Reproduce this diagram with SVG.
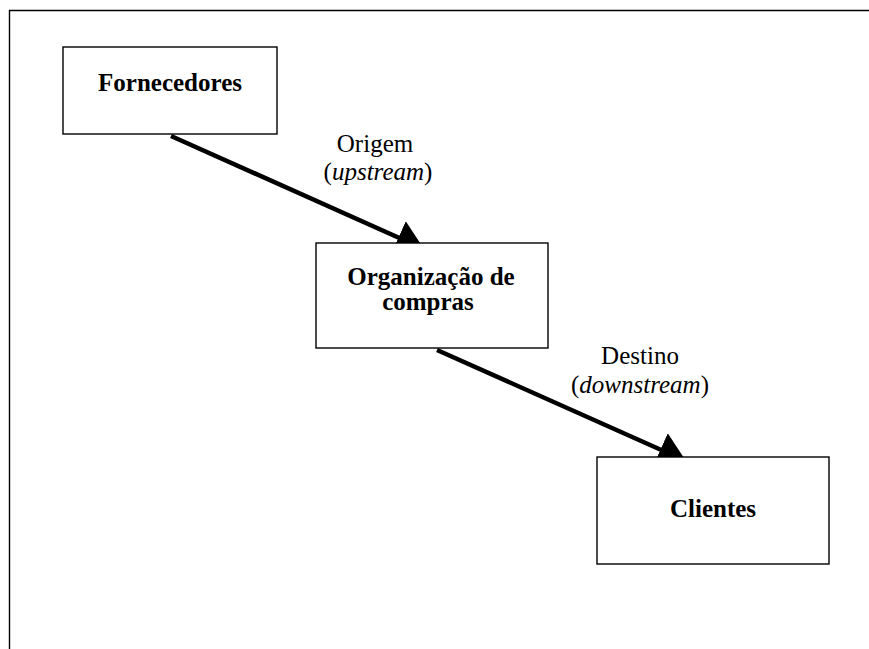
<svg xmlns="http://www.w3.org/2000/svg" width="869" height="649" viewBox="0 0 869 649">
  <style>
    .frame { fill: none; stroke: #000; stroke-width: 1.4; }
    .box { fill: #fff; stroke: #000; stroke-width: 1.4; }
    .edge { fill: none; stroke: #000; stroke-width: 4.5; marker-end: url(#head); }
    .node-text { font-family: "Liberation Serif", "Times New Roman", serif; font-weight: bold; font-size: 25px; text-anchor: middle; fill: #000; }
    .edge-text { font-family: "Liberation Serif", "Times New Roman", serif; font-size: 25px; text-anchor: middle; fill: #000; }
    .it { font-style: italic; }
  </style>
  <defs>
    <marker id="head" markerUnits="userSpaceOnUse" markerWidth="30" markerHeight="38" refX="28" refY="18" orient="auto">
      <path d="M0,0 L28,18 L0,36 Z" fill="#000"/>
    </marker>
  </defs>

  <rect width="869" height="649" fill="#fff"/>

  <!-- outer frame (top and left edges) -->
  <path class="frame" d="M9.5,649 L9.5,10.5 L869,10.5"/>

  <!-- connectors -->
  <g id="connectors">
    <line class="edge" x1="171" y1="136" x2="424" y2="249"/>
    <line class="edge" x1="437" y1="350" x2="686" y2="461"/>
  </g>

  <g id="fornecedores">
    <rect class="box" x="63" y="47" width="214" height="87"/>
    <text class="node-text" x="170" y="91">Fornecedores</text>
  </g>

  <g id="label-origem">
    <text class="edge-text" x="375" y="152">Origem</text>
    <text class="edge-text" x="378" y="180">(<tspan class="it">upstream</tspan>)</text>
  </g>

  <g id="organizacao">
    <rect class="box" x="316" y="243" width="232" height="105"/>
    <text class="node-text" x="431" y="285">Organização de</text>
    <text class="node-text" x="428" y="310">compras</text>
  </g>

  <g id="label-destino">
    <text class="edge-text" x="640" y="364">Destino</text>
    <text class="edge-text" x="640" y="393">(<tspan class="it">downstream</tspan>)</text>
  </g>

  <g id="clientes">
    <rect class="box" x="597" y="457" width="232" height="107"/>
    <text class="node-text" x="713" y="517">Clientes</text>
  </g>
</svg>
